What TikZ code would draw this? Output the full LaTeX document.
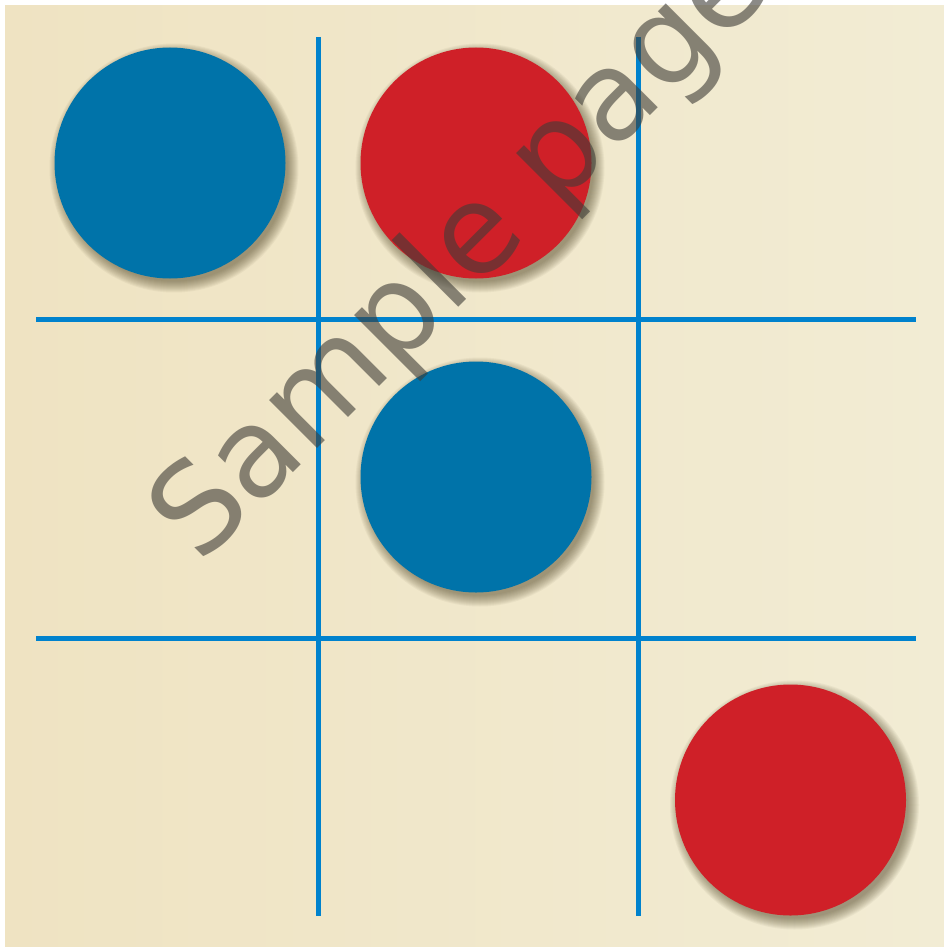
\documentclass[tikz,border=0pt]{standalone}
\usepackage{fontspec}
\newfontfamily\wmfont{DejaVu Sans}
\definecolor{paperA}{RGB}{239,227,194}
\definecolor{paperB}{RGB}{242,236,212}
\definecolor{gridblue}{RGB}{0,130,205}
\definecolor{chipblue}{RGB}{0,115,169}
\definecolor{chipred}{RGB}{207,32,40}
\definecolor{shadowc}{RGB}{70,60,30}
\definecolor{wmcolor}{RGB}{62,60,55}
\tikzset{
  chip/.style={circle, minimum size=231pt, inner sep=0pt, draw=none},
  gridline/.style={draw=gridblue, line width=5pt, line cap=butt},
  wmark/.style={text=wmcolor, text opacity=0.6, inner sep=0pt, font=\wmfont\fontsize{124}{150}\selectfont},
}
\newcommand{\chipshadow}[2]{%
  \foreach \k in {0,...,11}{\fill[shadowc, opacity=0.05] (#1+4,#2+5) circle (113.5pt+\k pt);}%
}
\begin{document}
\begin{tikzpicture}[x=1pt,y=-1pt]
\useasboundingbox (0,0) rectangle (944,947);
\fill[white] (0,0) rectangle (944,947);
\shade[left color=paperA, right color=paperB] (5,6) rectangle (944,947);
% shadows
\chipshadow{170}{163}
\chipshadow{476}{163}
\chipshadow{476}{477}
\chipshadow{790.5}{800}
% chips
\node[chip, fill=chipblue] (c1) at (170,163) {};
\node[chip, fill=chipred] (c2) at (476,163) {};
\node[chip, fill=chipblue] (c3) at (476,477) {};
\node[chip, fill=chipred] (c4) at (790.5,800) {};
% grid
\coordinate (v1t) at (318.5,37); \coordinate (v1b) at (318.5,916);
\coordinate (v2t) at (638.5,37); \coordinate (v2b) at (638.5,916);
\coordinate (h1l) at (36,319.3); \coordinate (h1r) at (916,319.3);
\coordinate (h2l) at (36,638.5); \coordinate (h2r) at (916,638.5);
\draw[gridline] (v1t) -- (v1b);
\draw[gridline] (v2t) -- (v2b);
\draw[gridline] (h1l) -- (h1r);
\draw[gridline] (h2l) -- (h2r);
% watermark
\node[wmark, rotate=45, anchor=base west] (wm) at (200,566) {Sample page};
\end{tikzpicture}
\end{document}
